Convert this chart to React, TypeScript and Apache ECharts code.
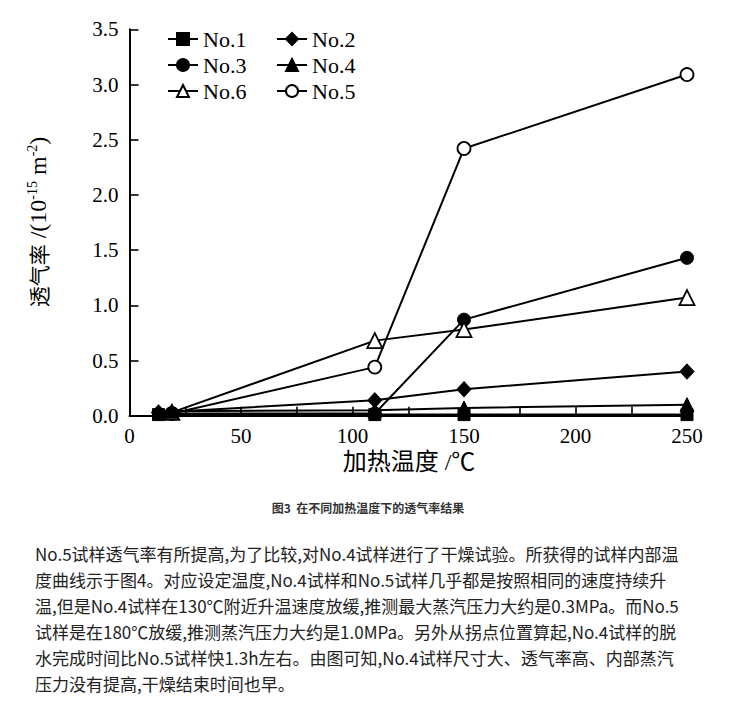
import React, { useEffect, useRef } from "react";
import * as echarts from "echarts";

// ---- data (temperature ℃, permeability 10^-15 m^2) ----
const no1: number[][] = [[13, 0.01], [110, 0.01], [150, 0.01], [250, 0.01]];
const no2: number[][] = [[13, 0.03], [110, 0.14], [150, 0.24], [250, 0.40]];
const no3: number[][] = [[19, 0.02], [110, 0.02], [150, 0.87], [250, 1.43]];
const no4: number[][] = [[19, 0.04], [110, 0.05], [150, 0.07], [250, 0.10]];
const no5: number[][] = [[19, 0.02], [110, 0.44], [150, 2.42], [250, 3.09]];
const no6: number[][] = [[19, 0.03], [110, 0.68], [150, 0.78], [250, 1.07]];

const legendOrder = ["No.1", "No.2", "No.3", "No.4", "No.6", "No.5"];

const xAxisTitle = "加热温度 /℃";
const caption = "图3  在不同加热温度下的透气率结果";
const paragraph = [
  "No.5试样透气率有所提高,为了比较,对No.4试样进行了干燥试验。所获得的试样内部温",
  "度曲线示于图4。对应设定温度,No.4试样和No.5试样几乎都是按照相同的速度持续升",
  "温,但是No.4试样在130℃附近升温速度放缓,推测最大蒸汽压力大约是0.3MPa。而No.5",
  "试样是在180℃放缓,推测蒸汽压力大约是1.0MPa。另外从拐点位置算起,No.4试样的脱",
  "水完成时间比No.5试样快1.3h左右。由图可知,No.4试样尺寸大、透气率高、内部蒸汽",
  "压力没有提高,干燥结束时间也早。",
];

const SERIF = "'Liberation Serif', 'Times New Roman', 'Noto Sans CJK SC', serif";
const SANS = "'Noto Sans CJK SC', 'Noto Sans', sans-serif";

export default function App() {
  const ref = useRef<HTMLDivElement>(null);
  useEffect(() => {
    if (!ref.current) return;
    const chart = echarts.init(ref.current, null, { renderer: "svg" });

    const filled = (name: string, data: number[][], symbol: string, size: any) => ({
      name,
      type: "line",
      data,
      symbol,
      symbolSize: size,
      lineStyle: { color: "#000", width: 2 },
      itemStyle: { color: "#000", borderColor: "#000", borderWidth: 1 },
    });
    const open = (name: string, data: number[][], symbol: string, size: any) => ({
      name,
      type: "line",
      data,
      symbol,
      symbolSize: size,
      lineStyle: { color: "#000", width: 2 },
      itemStyle: { color: "#fff", borderColor: "#000", borderWidth: 1.8 },
    });

    const colLeft = [167, 276];
    const rowTop = [28, 54, 80];
    const legends = legendOrder.map((n, i) => ({
      data: [n],
      left: colLeft[i % 2],
      top: rowTop[Math.floor(i / 2)],
      padding: 0,
      itemWidth: 30,
      itemHeight: 15,
      itemGap: 0,
      selectedMode: false,
      textStyle: { fontFamily: SERIF, fontSize: 22, color: "#000" },
    }));

    chart.setOption({
      animation: false,
      backgroundColor: "#fff",
      legend: legends,
      grid: { left: 129.5, right: 53, top: 29.3, bottom: 287.3, containLabel: false },
      xAxis: {
        type: "value",
        min: 0,
        max: 250,
        interval: 25,
        axisLine: { show: true, lineStyle: { color: "#000", width: 2 } },
        axisTick: { show: true, inside: true, length: 9, lineStyle: { color: "#000", width: 1.6 } },
        splitLine: { show: false },
        axisLabel: {
          color: "#000",
          fontFamily: SERIF,
          fontSize: 21,
          margin: 10,
          formatter: (v: number) => (v % 50 === 0 ? String(v) : ""),
        },
      },
      yAxis: {
        type: "value",
        min: 0,
        max: 3.5,
        interval: 0.5,
        axisLine: { show: true, lineStyle: { color: "#000", width: 2 } },
        axisTick: { show: true, inside: true, length: 9, lineStyle: { color: "#000", width: 1.6 } },
        splitLine: { show: false },
        axisLabel: {
          color: "#000",
          fontFamily: SERIF,
          fontSize: 21,
          margin: 11,
          formatter: (v: number) => v.toFixed(1),
        },
      },
      series: [
        open("No.5", no5, "circle", 13),
        filled("No.3", no3, "circle", 13),
        open("No.6", no6, "triangle", 15),
        filled("No.1", no1, "rect", 12),
        filled("No.2", no2, "diamond", [14, 15]),
        filled("No.4", no4, "triangle", 14),
      ],
      graphic: [
        {
          type: "text",
          x: 409,
          y: 462,
          style: {
            text: xAxisTitle,
            fontFamily: SERIF,
            fontSize: 24,
            fill: "#000",
            align: "center",
            verticalAlign: "middle",
          },
        },
        {
          type: "text",
          x: 38,
          y: 222,
          rotation: Math.PI / 2,
          style: {
            text: "{cjk|透气率} /(10{sup|-15} m{sup|-2})",
            fontFamily: SERIF,
            fontSize: 24,
            fill: "#000",
            align: "center",
            verticalAlign: "middle",
            rich: {
              cjk: { fontFamily: SANS, fontSize: 21 },
              sup: { fontFamily: SERIF, fontSize: 14, verticalAlign: "top", padding: [0, 0, 11, 0] },
            },
          },
        },
        {
          type: "text",
          x: 368,
          y: 507,
          style: {
            text: caption,
            fontFamily: SANS,
            fontSize: 12,
            fontWeight: "bold",
            fill: "#333",
            align: "center",
            verticalAlign: "middle",
          },
        },
        ...paragraph.map((line, i) => ({
          type: "text",
          x: 35,
          y: 553 + i * 26,
          style: {
            text: line,
            fontFamily: SANS,
            fontSize: 17,
            fill: "#222",
            align: "left",
            verticalAlign: "middle",
          },
        })),
      ],
    });
    return () => chart.dispose();
  }, []);
  return (
    <div
      ref={ref}
      style={{ position: "fixed", left: 0, top: 0, width: 740, height: 703, background: "#fff" }}
    />
  );
}
